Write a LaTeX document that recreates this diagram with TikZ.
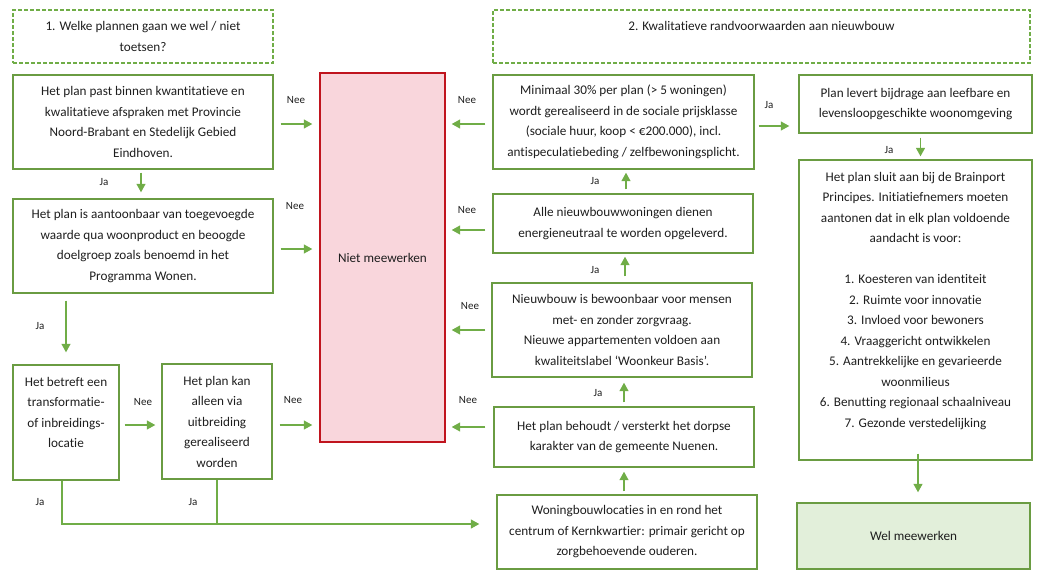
\documentclass[tikz,border=0pt]{standalone}
\usepackage{fontspec}
\setmainfont{Carlito}[Ligatures=NoCommon]
\usetikzlibrary{arrows.meta}
\definecolor{boxgreen}{HTML}{6A9C42}
\definecolor{arrgreen}{HTML}{70AD47}
\definecolor{nietred}{HTML}{C0141E}
\definecolor{nietfill}{HTML}{F9D6DC}
\definecolor{welfill}{HTML}{E2EFDA}
\definecolor{txt}{HTML}{1E1E1E}

\begin{document}
\begin{tikzpicture}[x=1pt,y=-1pt,
    rand/.style={draw=boxgreen,line width=1.4pt,align=center,inner sep=0pt,text=txt,font=\fontsize{13.2}{20.5}\selectfont},
    box/.style={rand,execute at begin node={\mbox{}\\[-13.5pt]}},
    kop/.style={box,draw=arrgreen,line width=1.1pt,dash pattern=on 4pt off 2pt},
    arr/.style={arrgreen,line width=1.3pt,-{Triangle[length=8.5pt,width=9pt]}},
    lbl/.style={text=txt,font=\fontsize{11}{12}\selectfont,inner sep=0pt}]
    \useasboundingbox (0,0) rectangle (1041,579);

    % koppen
    \node[kop,minimum width=260pt,minimum height=53pt] (kop1) at (143,36.5) {1. Welke plannen gaan we wel / niet\\toetsen?};
    \node[kop,minimum width=537pt,minimum height=53pt] (kop2) at (761.5,36.5) {2. Kwalitatieve randvoorwaarden aan nieuwbouw\\ \mbox{}};

    % deel 1
    \node[box,minimum width=260pt,minimum height=94pt] (a1) at (143,122) {Het plan past binnen kwantitatieve en\\kwalitatieve afspraken met Provincie\\Noord-Brabant en Stedelijk Gebied\\Eindhoven.};
    \node[box,minimum width=260pt,minimum height=94pt] (a2) at (143,246) {Het plan is aantoonbaar van toegevoegde\\waarde qua woonproduct en beoogde\\doelgroep zoals benoemd in het\\Programma Wonen.};
    \node[box,minimum width=106pt,minimum height=115pt] (a3) at (66,422.5) {Het betreft een\\transformatie-\\of inbreidings-\\locatie\\ \mbox{}};
    \node[box,minimum width=110pt,minimum height=115pt] (a4) at (217,421.5) {Het plan kan\\alleen via\\uitbreiding\\gerealiseerd\\worden};

    \node[rand,draw=nietred,fill=nietfill,minimum width=125pt,minimum height=369pt] (niet) at (382.5,257.5) {Niet meewerken};

    % deel 2
    \node[box,minimum width=261pt,minimum height=94pt] (b1) at (623.5,122) {Minimaal 30\% per plan (> 5 woningen)\\wordt gerealiseerd in de sociale prijsklasse\\(sociale huur, koop < €200.000), incl.\\antispeculatiebeding / zelfbewoningsplicht.};
    \node[box,minimum width=260pt,minimum height=59pt] (b2) at (623,223.5) {Alle nieuwbouwwoningen dienen\\energieneutraal te worden opgeleverd.};
    \node[box,minimum width=260pt,minimum height=94pt] (b3) at (622,330) {Nieuwbouw is bewoonbaar voor mensen\\met- en zonder zorgvraag.\\Nieuwe appartementen voldoen aan\\kwaliteitslabel ‘Woonkeur Basis’.};
    \node[box,minimum width=260pt,minimum height=60pt] (b4) at (624,437) {Het plan behoudt / versterkt het dorpse\\karakter van de gemeente Nuenen.};
    \node[box,minimum width=260pt,minimum height=74pt] (b5) at (627,532) {Woningbouwlocaties in en rond het\\centrum of Kernkwartier: primair gericht op\\zorgbehoevende ouderen.};

    \node[box,minimum width=233pt,minimum height=58pt] (c1) at (915.5,104) {Plan levert bijdrage aan leefbare en\\levensloopgeschikte woonomgeving};
    \node[box,minimum width=233pt,minimum height=300pt] (c2) at (915.5,310) {Het plan sluit aan bij de Brainport\\Principes. Initiatiefnemers moeten\\aantonen dat in elk plan voldoende\\aandacht is voor:\\[20.5pt]1. Koesteren van identiteit\\2. Ruimte voor innovatie\\3. Invloed voor bewoners\\4. Vraaggericht ontwikkelen\\5. Aantrekkelijke en gevarieerde\\woonmilieus\\6. Benutting regionaal schaalniveau\\7. Gezonde verstedelijking\\ \mbox{}};
    \node[rand,fill=welfill,minimum width=233pt,minimum height=66pt] (wel) at (913.5,536) {Wel meewerken};

    % pijlen deel 1
    \draw[arr,shorten <=7pt,shorten >=7pt] ([yshift=-2pt]a1.east) -- ([yshift=-2pt]niet.west |- a1.east);
    \draw[arr,shorten <=7pt,shorten >=7pt] ([yshift=-3pt]a2.east) -- ([yshift=-3pt]niet.west |- a2.east);
    \draw[arr,shorten <=7pt,shorten >=7pt] ([yshift=-3.5pt]a4.east) -- ([yshift=-3.5pt]niet.west |- a4.east);
    \draw[arr,shorten <=3pt,shorten >=6pt] ([xshift=-2pt]a1.south) -- ([xshift=-2pt]a2.north);
    \draw[arr,shorten <=7pt,shorten >=12pt] (a3.north |- a2.south) -- (a3.north);
    \draw[arr,shorten <=5pt,shorten >=6pt] ([yshift=-2.5pt]a3.east) -- ([yshift=-2.5pt]a4.west |- a3.east);
    \coordinate (jaknik) at (62,524);
    \draw[arr,shorten >=17pt] ([xshift=-4pt]a3.south) |- ([yshift=8pt]b5.west);
    \draw[arrgreen,line width=1.3pt] (a4.south) -- (jaknik -| a4.south);

    % pijlen deel 2
    \draw[arr,shorten <=7pt,shorten >=6pt] ([yshift=-2pt]b1.west) -- ([yshift=-2pt]niet.east |- b1.west);
    \draw[arr,shorten <=7pt,shorten >=6pt] ([yshift=-6.5pt]b2.west) -- ([yshift=-6.5pt]niet.east |- b2.west);
    \draw[arr,shorten <=6pt,shorten >=6pt] (b3.west) -- (niet.east |- b3.west);
    \draw[arr,shorten <=8pt,shorten >=6pt] ([yshift=10pt]b4.west) -- ([yshift=10pt]niet.east |- b4.west);
    \draw[arr,shorten <=3pt,shorten >=4pt] (b4.south |- b5.north) -- (b4.south);
    \draw[arr,shorten <=4pt,shorten >=5pt] (b4.north) -- (b4.north |- b3.south);
    \draw[arr,shorten <=6pt,shorten >=3pt] ([xshift=3pt]b3.north) -- ([xshift=3pt]b3.north |- b2.south);
    \draw[arr,shorten <=4pt,shorten >=3pt] ([xshift=3pt]b2.north) -- ([xshift=3pt]b2.north |- b1.south);
    \draw[arr,shorten <=4pt,shorten >=9pt] ([yshift=-4pt]b1.east) -- ([yshift=-4pt]c1.west |- b1.east);
    \draw[arr,shorten <=4pt,shorten >=3pt] ([xshift=5pt]c1.south) -- ([xshift=5pt]c2.north);
    \draw[arr,shorten <=-7pt,shorten >=10pt] ([xshift=2.5pt]c2.south) -- ([xshift=2.5pt]c2.south |- wel.north);

    % labels
    \node[lbl] (nee1) at (296,100) {Nee};
    \node[lbl] (nee2) at (295,206) {Nee};
    \node[lbl] (nee3) at (293,400) {Nee};
    \node[lbl] (nee4) at (143,402) {Nee};
    \node[lbl] (nee5) at (467,100) {Nee};
    \node[lbl] (nee6) at (467,210) {Nee};
    \node[lbl] (nee7) at (470,306) {Nee};
    \node[lbl] (nee8) at (468,400) {Nee};
    \node[lbl] (ja1) at (104,182) {Ja};
    \node[lbl] (ja2) at (40,326) {Ja};
    \node[lbl] (ja3) at (40,502) {Ja};
    \node[lbl] (ja4) at (193,502) {Ja};
    \node[lbl] (ja5) at (595,181) {Ja};
    \node[lbl] (ja6) at (595,270) {Ja};
    \node[lbl] (ja7) at (598,393) {Ja};
    \node[lbl] (ja8) at (769,105) {Ja};
    \node[lbl] (ja9) at (889,150) {Ja};
\end{tikzpicture}
\end{document}
